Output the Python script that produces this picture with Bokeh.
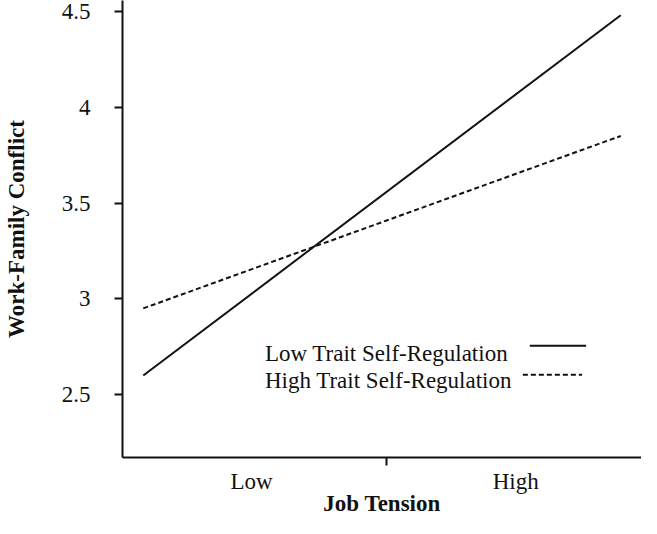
from bokeh.plotting import figure
from bokeh.models import FixedTicker, Range1d
from bokeh.core.properties import value
from bokeh.embed import file_html
from bokeh.resources import INLINE

# ---- data ----
job_levels = ["Low", "High"]
x_pos = [0, 1]
low_trait_selfreg = [2.60, 4.48]
high_trait_selfreg = [2.95, 3.85]
series_names = ["Low Trait Self-Regulation", "High Trait Self-Regulation"]
y_ticks = [2.5, 3, 3.5, 4, 4.5]
y_tick_labels = ["2.5", "3", "3.5", "4", "4.5"]
x_label_pos = [0.227, 0.78]
x_mid_tick = [0.51]

FONT = "Liberation Serif"
FS = "23px"
INK = "#111111"

p = figure(width=641, height=518, output_backend="svg", toolbar_location=None,
           title=None,
           x_range=Range1d(-0.0435, 1.0435), y_range=Range1d(2.1716, 4.557),
           min_border_left=116, min_border_right=0, min_border_top=0,
           min_border_bottom=60)
p.outline_line_color = None
p.xgrid.visible = False
p.ygrid.visible = False
p.background_fill_color = "white"
p.border_fill_color = "white"

# lines
p.line(x_pos, low_trait_selfreg, line_color=INK, line_width=2)
p.line(x_pos, high_trait_selfreg, line_color=INK, line_width=2, line_dash="5 3")

# legend (text first, sample line after)
leg_x = 0.2547
leg_y = [2.7135, 2.573]
p.text(x=[leg_x, leg_x], y=leg_y, text=series_names,
       text_font=value(FONT), text_font_size=FS, text_color=INK,
       text_baseline="alphabetic", text_align="left")
p.line([0.8095, 0.9275], [2.755, 2.755], line_color=INK, line_width=2)
p.line([0.795, 0.919], [2.604, 2.604], line_color=INK, line_width=2, line_dash="5 3")

# y axis
ya = p.yaxis[0]
ya.ticker = FixedTicker(ticks=y_ticks, minor_ticks=[])
ya.major_label_overrides = {t: s for t, s in zip(y_ticks, y_tick_labels)}
ya.axis_line_width = 2
ya.axis_line_color = INK
ya.major_tick_line_width = 2
ya.major_tick_line_color = INK
ya.major_tick_out = 8
ya.major_tick_in = 0
ya.minor_tick_line_color = None
ya.major_label_standoff = 24
ya.major_label_text_font = FONT
ya.major_label_text_font_size = FS
ya.major_label_text_color = INK
ya.axis_label = "Work-Family Conflict"
ya.axis_label_text_font = FONT
ya.axis_label_text_font_size = FS
ya.axis_label_text_font_style = "bold"
ya.axis_label_text_color = INK
ya.axis_label_standoff = 30

# x axis
xa = p.xaxis[0]
xa.ticker = FixedTicker(ticks=x_label_pos, minor_ticks=x_mid_tick)
xa.major_label_overrides = {t: s for t, s in zip(x_label_pos, job_levels)}
xa.axis_line_width = 2
xa.axis_line_color = INK
xa.major_tick_line_color = None
xa.major_tick_out = 8
xa.major_tick_in = 0
xa.minor_tick_line_color = INK
xa.minor_tick_line_width = 2
xa.minor_tick_out = 8
xa.minor_tick_in = 0
xa.major_label_standoff = 3
xa.major_label_text_font = FONT
xa.major_label_text_font_size = FS
xa.major_label_text_color = INK
xa.axis_label = "Job Tension"
xa.axis_label_text_font = FONT
xa.axis_label_text_font_size = FS
xa.axis_label_text_font_style = "bold"
xa.axis_label_text_color = INK
xa.axis_label_standoff = -6

open("out.html", "w").write(file_html(p, INLINE))
